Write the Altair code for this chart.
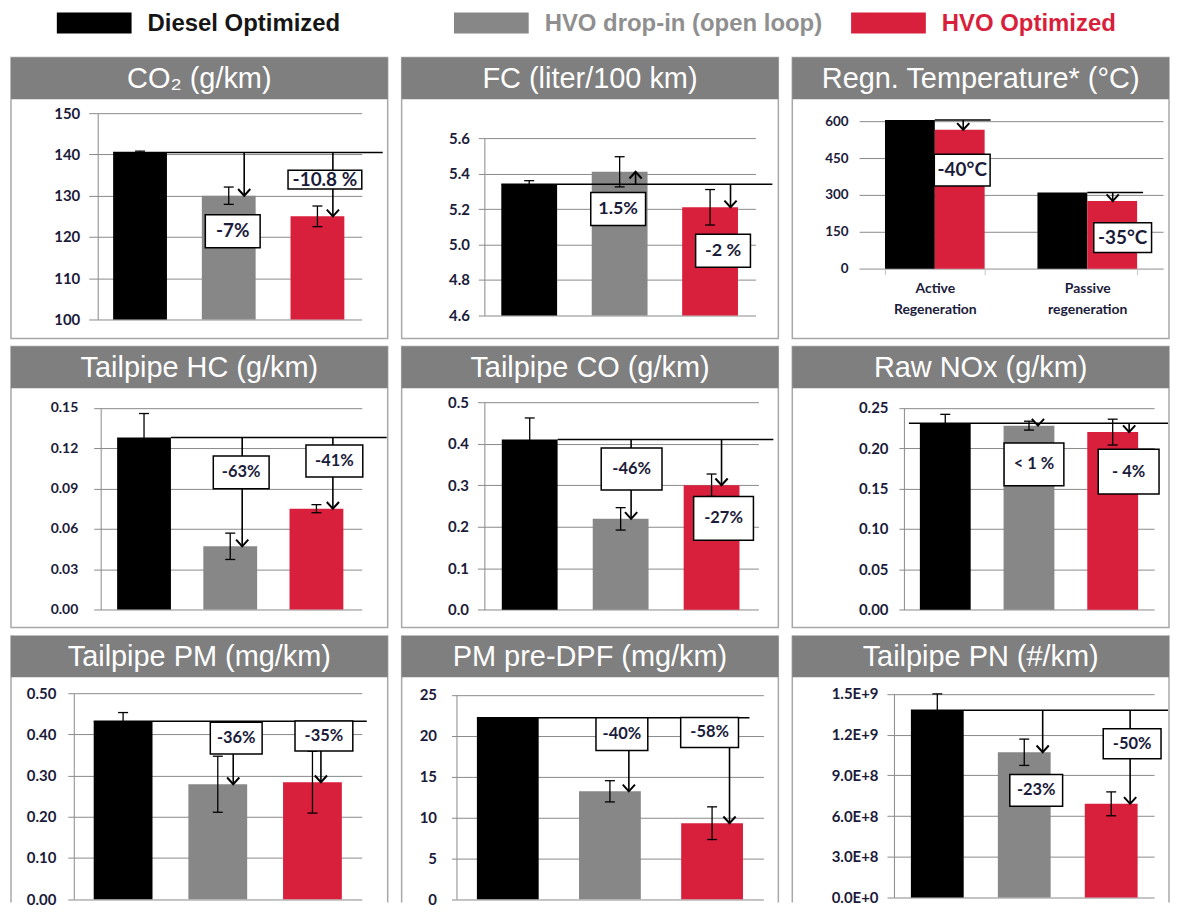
import altair as alt
import pandas as pd

# ---------------- data ----------------
SERIES = ["Diesel Optimized", "HVO drop-in (open loop)", "HVO Optimized"]
BAR_COLORS = ["#000000", "#878787", "#d81f3c"]
LEGEND_TEXT_COLORS = ["#161616", "#8f8f8f", "#d81f3c"]

TITLES = ["CO₂ (g/km)", "FC (liter/100 km)", "Regn. Temperature* (°C)",
          "Tailpipe HC (g/km)", "Tailpipe CO (g/km)", "Raw NOx (g/km)",
          "Tailpipe PM (mg/km)", "PM pre-DPF (mg/km)", "Tailpipe PN (#/km)"]

co2_values = [140.5, 130.0, 125.0]
co2_errors = [0.3, 2.1, 2.5]
co2_labels = ["-7%", "-10.8 %"]
co2_label_at = [121.4, 133.9]
co2_ticks = [100, 110, 120, 130, 140, 150]

fc_values = [5.34, 5.41, 5.21]
fc_errors = [0.02, 0.085, 0.10]
fc_labels = ["1.5%", "-2 %"]
fc_label_at = [5.20, 4.965]
fc_ticks = [4.6, 4.8, 5.0, 5.2, 5.4, 5.6]

temp_groups = ["Active Regeneration", "Passive regeneration"]
temp_diesel = [605, 310]
temp_hvo = [565, 275]
temp_labels = ["-40°C", "-35°C"]
temp_label_at = [401, 126]
temp_ticks = [0, 150, 300, 450, 600]

hc_values = [0.128, 0.047, 0.075]
hc_errors = [0.0178, 0.0098, 0.003]
hc_labels = ["-63%", "-41%"]
hc_label_at = [0.102, 0.1105]
hc_ticks = [0.0, 0.03, 0.06, 0.09, 0.12, 0.15]

co_values = [0.41, 0.219, 0.30]
co_errors = [0.052, 0.027, 0.027]
co_labels = ["-46%", "-27%"]
co_label_at = [0.339, 0.22]
co_ticks = [0.0, 0.1, 0.2, 0.3, 0.4, 0.5]

nox_values = [0.231, 0.228, 0.220]
nox_errors = [0.011, 0.0055, 0.016]
nox_labels = ["< 1 %", "- 4%"]
nox_label_at = [0.180, 0.171]
nox_ticks = [0.0, 0.05, 0.10, 0.15, 0.20, 0.25]

pm_values = [0.432, 0.279, 0.284]
pm_errors = [0.021, 0.068, 0.075]
pm_labels = ["-36%", "-35%"]
pm_label_at = [0.391, 0.396]
pm_ticks = [0.0, 0.1, 0.2, 0.3, 0.4, 0.5]

pmpre_values = [22.2, 13.2, 9.3]
pmpre_errors = [0.0, 1.3, 2.0]
pmpre_labels = ["-40%", "-58%"]
pmpre_label_at = [20.2, 20.4]
pmpre_ticks = [0, 5, 10, 15, 20, 25]

pn_values = [1.38e9, 1.07e9, 6.9e8]
pn_errors = [1.2e8, 9.7e7, 8.8e7]
pn_labels = ["-23%", "-50%"]
pn_label_at = [7.89e8, 1.133e9]
pn_ticks = [0, 3e8, 6e8, 9e8, 1.2e9, 1.5e9]

# ---------------- layout / style ----------------
W_CELL, HEAD_H = 378, 42
GRID = "#8a8a8a"
FRAME = "#a8a8a8"
HEAD = "#7f7f7f"
INK = "#1b1b3a"
NUM_FONT = "Lato"
TITLE_FONT = "Liberation Sans"

color_scale = alt.Scale(domain=SERIES, range=BAR_COLORS)

# plot = (left, top, width, height) of the plot area inside its panel frame
LAY = {
    "co2": dict(plot=(87, 56, 265, 207), h=282, step=89, bar_w=54, first=42.5, pad=9, tick=9,
                ref_start=0, ref_ext=21, arrow_dx=(15.5, 15.5), label_dx=(4, 7.5),
                boxes=((55, 33), (74, 19)), fs=19, afs=15),
    "fc": dict(plot=(83, 81, 272, 178), h=282, step=90.75, bar_w=56, first=45, pad=9, tick=6,
               ref_start=0, ref_ext=17, arrow_dx=(16, 20.5), label_dx=(-1.5, 13),
               boxes=((55, 33), (55, 33)), fs=18, afs=15),
    "temp": dict(plot=(67, 64, 305, 148), h=282, step=153, bar_w=100, first=76, pad=11,
                 arrow_dx=(3.5, 0.5), label_dx=(2.5, 10.5), boxes=((56, 32), (58, 30)), fs=19, afs=13.5),
    "hc": dict(plot=(90, 61.7, 262, 202.3), h=282, step=86.5, bar_w=54, first=43.5, pad=16, tick=7,
               ref_start=1, ref_ext=25, arrow_dx=(12, 16.5), label_dx=(11, 18),
               boxes=((56, 33), (57, 32))),
    "co": dict(plot=(83, 56, 275, 208.3), h=282, step=91.25, bar_w=56, first=45.5, pad=9, tick=7,
               ref_start=1, ref_ext=15, arrow_dx=(10.5, 10), label_dx=(11, 12),
               boxes=((61, 42), (60, 44)), afs=15),
    "nox": dict(plot=(112, 61.7, 251, 202.6), h=282, step=84, bar_w=51, first=41.5, pad=11, tick=5,
                ref_start=0, ref_off=-11, ref_ext=14, arrow_dx=(9, 16.5), label_dx=(5, 16),
                boxes=((60, 43), (61, 45)), afs=15),
    "pm": dict(plot=(63, 58, 289, 206.7), h=268, open=True, step=95, bar_w=59, first=49.5, pad=12, tick=6,
               ref_start=0, ref_ext=5, arrow_dx=(15.5, 8.5), label_dx=(18.5, 11.5),
               boxes=((52, 32), (58, 30)), afs=15),
    "pmpre": dict(plot=(55, 59.7, 308, 205), h=268, open=True, step=102.5, bar_w=62, first=51.5, pad=15, tick=5,
                  ref_start=0, ref_ext=-14, arrow_dx=(19, 17.5), label_dx=(12, -2.5),
                  boxes=((52, 33), (58, 30)), afs=15),
    "pn": dict(plot=(102, 58.7, 261, 204.3), h=268, open=True, step=87.25, bar_w=53, first=43.5, pad=9, tick=7,
               ref_start=0, ref_ext=14, arrow_dx=(18.5, 19), label_dx=(12, 21),
               boxes=((53, 32), (58, 30)), afs=15),
}
KEYS = ["co2", "fc", "temp", "hc", "co", "nox", "pm", "pmpre", "pn"]
# common view origin per column / row so that every frame lines up in the grid
COL_L = [min(LAY[KEYS[r * 3 + c]]["plot"][0] for r in range(3)) for c in range(3)]
ROW_T = [min(LAY[KEYS[r * 3 + c]]["plot"][1] for c in range(3)) for r in range(3)]


def band_params(pw, n, step, bw, first_c):
    pi = 1 - bw / step
    po = max(0.0, (pw / step - n + pi) / 2)
    real_step = pw / (n - pi + 2 * po)
    leftover = pw - real_step * (n - pi)
    al = 0.5 if leftover <= 0.5 else min(1.0, max(0.0, (first_c - bw / 2) / leftover))
    return pi, po, al


def decor(title, L, T, h_cell, open_bottom):
    one = pd.DataFrame({"t": [title]})
    out = []
    if open_bottom:
        for xv in (-L, W_CELL - L):
            out.append(alt.Chart(one).mark_rule(color=FRAME, strokeWidth=1.5).encode(
                x=alt.value(xv), y=alt.value(-T), y2=alt.value(h_cell - T)))
    else:
        out.append(alt.Chart(one).mark_rect(fill="transparent", stroke=FRAME, strokeWidth=1.5).encode(
            x=alt.value(-L), x2=alt.value(W_CELL - L),
            y=alt.value(-T), y2=alt.value(h_cell - T)))
    out.append(alt.Chart(one).mark_rect(fill=HEAD).encode(
        x=alt.value(-L), x2=alt.value(W_CELL - L),
        y=alt.value(-T), y2=alt.value(-T + HEAD_H)))
    out.append(alt.Chart(one).mark_text(color="white", fontSize=29, font=TITLE_FONT,
                                        baseline="middle", align="center").encode(
        x=alt.value(W_CELL / 2 - L), y=alt.value(-T + HEAD_H / 2 + 1), text="t:N"))
    return out


def arrow_path(up):
    return "M-1,1.1L0,0L1,1.1" if up else "M-1,-1.1L0,0L1,-1.1"


def box_path(w, h):
    r = h / w
    return f"M-1,{-r:.3f}H1V{r:.3f}H-1Z"


def y_axis(ticks, fmt, lay, offset, domain=True, ticks_on=True):
    kw = dict(values=ticks, title=None, grid=True, gridColor=GRID, gridWidth=1,
              domain=domain, domainColor=GRID, ticks=ticks_on, tickColor=GRID,
              tickSize=lay.get("tick", 7), labelPadding=lay["pad"], labelFont=NUM_FONT,
              labelFontSize=lay.get("afs", 14), labelFontWeight="bold", labelColor=INK,
              offset=-offset)
    if fmt == "sci":
        kw["labelExpr"] = "replace(format(datum.value, '.1e'), 'e', 'E')"
    else:
        kw["format"] = fmt
    return alt.Axis(**kw)


def three_bar_panel(title, values, errors, labels, label_at, ticks, fmt, lay, L, T):
    left, top, pw, ph = lay["plot"]
    a = left - L   # plot start inside the view
    c = top - T
    pi, po, al = band_params(pw, 3, lay["step"], lay["bar_w"], lay["first"])
    xs = alt.Scale(domain=SERIES, range=[a, a + pw], paddingInner=pi, paddingOuter=po, align=al)
    lo, hi = ticks[0], ticks[-1]
    ys = alt.Scale(domain=[lo, hi], range=[c + ph, c], nice=False, zero=False)
    yax = y_axis(ticks, fmt, lay, a)

    def X(**kw):
        return alt.X("series:N", scale=xs, axis=None, **kw)

    def Y(f):
        return alt.Y(f, scale=ys, axis=yax)

    df = pd.DataFrame({"series": SERIES, "v": values, "err": errors})
    df["lo"] = df["v"] - df["err"]
    df["hi"] = df["v"] + df["err"]
    eb = df[df["err"] > 0]

    layers = decor(title, L, T, lay["h"], lay.get("open", False))
    layers.append(alt.Chart(df).mark_bar().encode(
        x=X(), y=Y("v:Q"), y2=alt.Y2Datum(lo),
        color=alt.Color("series:N", scale=color_scale, legend=None)))
    layers.append(alt.Chart(eb).mark_rule(color="black", strokeWidth=1.3).encode(
        x=X(), y=Y("lo:Q"), y2="hi:Q"))
    for f in ["lo:Q", "hi:Q"]:
        layers.append(alt.Chart(eb).mark_tick(orient="horizontal", size=10, thickness=1.3,
                                              color="black", opacity=1).encode(x=X(), y=Y(f)))
    refdf = pd.DataFrame({"series": [SERIES[0]], "ref": [values[0]]})
    layers.append(alt.Chart(refdf).mark_rule(color="black", strokeWidth=1.5,
                                             xOffset=lay.get("ref_off", 0)).encode(
        x=X(bandPosition=lay["ref_start"]), x2=alt.value(a + pw + lay["ref_ext"]), y=Y("ref:Q")))
    for i in (1, 2):
        adf = pd.DataFrame({"series": [SERIES[i]], "ref": [values[0]], "v": [values[i]]})
        dx = lay["arrow_dx"][i - 1]
        layers.append(alt.Chart(adf).mark_rule(color="black", strokeWidth=1.6, xOffset=dx).encode(
            x=X(), y=Y("ref:Q"), y2="v:Q"))
        layers.append(alt.Chart(adf).mark_point(
            shape=arrow_path(values[i] > values[0]), size=150, filled=False, color="black",
            strokeWidth=2, opacity=1, xOffset=dx).encode(x=X(), y=Y("v:Q")))
    for i in (0, 1):
        ldf = pd.DataFrame({"series": [SERIES[i + 1]], "ly": [label_at[i]], "txt": [labels[i]]})
        w, h = lay["boxes"][i]
        dx = lay["label_dx"][i]
        layers.append(alt.Chart(ldf).mark_point(
            shape=box_path(w, h), size=w * w, filled=True, fill="white", stroke="black",
            strokeWidth=1.5, opacity=1, xOffset=dx).encode(x=X(), y=Y("ly:Q")))
        layers.append(alt.Chart(ldf).mark_text(
            font=NUM_FONT, fontWeight="bold", fontSize=lay.get("fs", 16.5), color=INK,
            baseline="middle", align="center", dx=dx).encode(x=X(), y=Y("ly:Q"), text="txt:N"))
    return alt.layer(*layers).properties(width=a + pw, height=c + ph)


def temp_panel(title, lay, L, T):
    left, top, pw, ph = lay["plot"]
    a = left - L
    c = top - T
    pi, po, al = band_params(pw, 2, lay["step"], lay["bar_w"], lay["first"])
    xs = alt.Scale(domain=temp_groups, range=[a, a + pw], paddingInner=pi, paddingOuter=po, align=al)
    xax = alt.Axis(title=None, labelExpr="split(datum.label, ' ')", labelAngle=0,
                   labelFont=NUM_FONT, labelFontSize=14, labelFontWeight="bold", labelColor=INK,
                   labelLineHeight=21, labelPadding=7, domainColor="#c4c4c4", tickColor="#c4c4c4",
                   tickBand="extent", tickSize=6, grid=False)
    ys = alt.Scale(domain=[temp_ticks[0], temp_ticks[-1]], range=[c + ph, c], nice=False, zero=False)
    yax = y_axis(temp_ticks, "d", lay, a, domain=False, ticks_on=False)
    two = [SERIES[0], SERIES[2]]

    def X():
        return alt.X("group:N", scale=xs, axis=xax)

    def Y(f):
        return alt.Y(f, scale=ys, axis=yax)

    rows = []
    for g, d, h in zip(temp_groups, temp_diesel, temp_hvo):
        rows.append({"group": g, "series": two[0], "v": d})
        rows.append({"group": g, "series": two[1], "v": h})
    df = pd.DataFrame(rows)
    half = lay["bar_w"] / 4  # centre of the red bar inside its group

    layers = decor(title, L, T, lay["h"], False)
    layers.append(alt.Chart(df).mark_bar().encode(
        x=X(), xOffset=alt.XOffset("series:N", scale=alt.Scale(domain=two, paddingInner=0, paddingOuter=0)),
        y=Y("v:Q"), color=alt.Color("series:N", scale=color_scale, legend=None)))
    adf = pd.DataFrame({"group": temp_groups, "ref": temp_diesel, "v": temp_hvo})
    layers.append(alt.Chart(adf).mark_tick(orient="horizontal", size=56, thickness=1.5,
                                           color="black", opacity=1, xOffset=half + 3).encode(
        x=X(), y=Y("ref:Q")))
    for i in range(2):
        a1 = adf.iloc[[i]]
        dx = half + lay["arrow_dx"][i]
        layers.append(alt.Chart(a1).mark_rule(color="black", strokeWidth=1.6, xOffset=dx).encode(
            x=X(), y=Y("ref:Q"), y2="v:Q"))
        layers.append(alt.Chart(a1).mark_point(
            shape=arrow_path(False), size=150, filled=False, color="black",
            strokeWidth=2, opacity=1, xOffset=dx).encode(x=X(), y=Y("v:Q")))
        ldf = pd.DataFrame({"group": [temp_groups[i]], "ly": [temp_label_at[i]], "txt": [temp_labels[i]]})
        w, h = lay["boxes"][i]
        ldx = half + lay["label_dx"][i]
        layers.append(alt.Chart(ldf).mark_point(
            shape=box_path(w, h), size=w * w, filled=True, fill="white", stroke="black",
            strokeWidth=1.5, opacity=1, xOffset=ldx).encode(x=X(), y=Y("ly:Q")))
        layers.append(alt.Chart(ldf).mark_text(
            font=NUM_FONT, fontWeight="bold", fontSize=lay.get("fs", 18), color=INK,
            baseline="middle", align="center", dx=ldx).encode(x=X(), y=Y("ly:Q"), text="txt:N"))
    return alt.layer(*layers).properties(width=a + pw, height=c + ph)


SPECS = [
    (TITLES[0], co2_values, co2_errors, co2_labels, co2_label_at, co2_ticks, "d"),
    (TITLES[1], fc_values, fc_errors, fc_labels, fc_label_at, fc_ticks, ".1f"),
    None,
    (TITLES[3], hc_values, hc_errors, hc_labels, hc_label_at, hc_ticks, ".2f"),
    (TITLES[4], co_values, co_errors, co_labels, co_label_at, co_ticks, ".1f"),
    (TITLES[5], nox_values, nox_errors, nox_labels, nox_label_at, nox_ticks, ".2f"),
    (TITLES[6], pm_values, pm_errors, pm_labels, pm_label_at, pm_ticks, ".2f"),
    (TITLES[7], pmpre_values, pmpre_errors, pmpre_labels, pmpre_label_at, pmpre_ticks, "d"),
    (TITLES[8], pn_values, pn_errors, pn_labels, pn_label_at, pn_ticks, "sci"),
]

panels = []
for idx, key in enumerate(KEYS):
    L, T = COL_L[idx % 3], ROW_T[idx // 3]
    if SPECS[idx] is None:
        panels.append(temp_panel(TITLES[2], LAY[key], L, T))
    else:
        panels.append(three_bar_panel(*SPECS[idx], LAY[key], L, T))

# ---------------- legend ----------------
LEG_SHIFT = 46 - COL_L[0]   # legend origin coincides with the first column's plot origin
LEG_STEP, LEG_PAD = 398.5, 0.25
leg = pd.DataFrame({"series": SERIES})
LEG_X = alt.X("series:N", scale=alt.Scale(type="band", domain=SERIES, paddingInner=LEG_PAD,
                                          paddingOuter=0, align=0),
              axis=None, bandPosition=0)
leg_rect = alt.Chart(leg).mark_point(shape="M0,-0.28H2V0.28H0Z", size=75 * 75, filled=True,
                                     opacity=1, xOffset=LEG_SHIFT).encode(
    x=LEG_X, y=alt.value(10.5), color=alt.Color("series:N", scale=color_scale, legend=None))
leg_text = alt.Chart(leg).mark_text(align="left", baseline="middle", fontSize=24, fontWeight="bold",
                                    font=TITLE_FONT, dx=LEG_SHIFT + 91).encode(
    x=LEG_X, y=alt.value(12), text="series:N",
    fill=alt.Fill("series:N", scale=alt.Scale(domain=SERIES, range=LEGEND_TEXT_COLORS), legend=None))
legend = alt.layer(leg_rect, leg_text).properties(width=LEG_STEP * (3 - LEG_PAD), height=24)

grid = alt.concat(*panels, columns=3, spacing={"row": 6, "column": 12})

chart = alt.vconcat(legend, grid, spacing=20).properties(
    padding={"left": 2, "top": 2, "right": 0, "bottom": 0}
).configure_view(stroke=None)

chart.save("out.html", embed_options={"renderer": "svg", "actions": False})
